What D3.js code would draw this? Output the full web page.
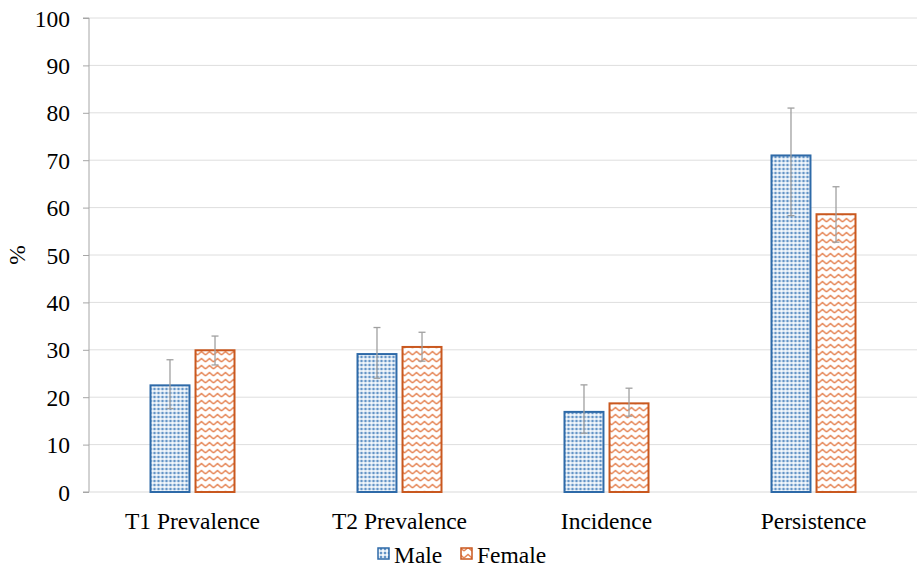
<!DOCTYPE html>
<html><head><meta charset="utf-8">
<script src="https://cdn.jsdelivr.net/npm/d3@7"></script>
<style>body{margin:0;background:#fff}svg{display:block}</style>
</head><body>
<script>
const categories = ["T1 Prevalence", "T2 Prevalence", "Incidence", "Persistence"];
const seriesNames = ["Male", "Female"];
const maleValues = [22.5, 29.1, 16.9, 71.0];
const maleLower = [17.6, 24.0, 12.4, 58.3];
const maleUpper = [27.9, 34.7, 22.6, 81.0];
const femaleValues = [29.9, 30.6, 18.7, 58.6];
const femaleLower = [26.8, 27.6, 16.0, 52.7];
const femaleUpper = [32.9, 33.7, 21.9, 64.4];
const yTicks = [0, 10, 20, 30, 40, 50, 60, 70, 80, 90, 100];

const W = 917, H = 568;
const margin = {left: 89, right: 0, top: 18, bottom: 76};
const svg = d3.select("body").append("svg").attr("width", W).attr("height", H);
const defs = svg.append("defs");
const FONT = "Liberation Serif";
const FS = 23.5;

// Patterns
const pm = defs.append("pattern").attr("id", "pMale").attr("patternUnits", "userSpaceOnUse")
  .attr("width", 4).attr("height", 4);
pm.append("rect").attr("width", 4).attr("height", 4).attr("fill", "#d3e2f0");
pm.append("rect").attr("x", 0).attr("y", 0).attr("width", 2).attr("height", 2).attr("fill", "#6494c6");
pm.append("rect").attr("x", 2).attr("y", 2).attr("width", 2).attr("height", 2).attr("fill", "#f4f8fc");

const pf = defs.append("pattern").attr("id", "pFemale").attr("patternUnits", "userSpaceOnUse")
  .attr("width", 8).attr("height", 7);
pf.append("rect").attr("width", 8).attr("height", 7).attr("fill", "#fff");
pf.append("path").attr("d", "M0,5 L4,1.5 L8,5").attr("fill", "none").attr("stroke", "#e58555").attr("stroke-width", 1.5);

const x0 = d3.scaleBand().domain(categories).range([margin.left, W - margin.right]);
const x1 = d3.scaleBand().domain(seriesNames).range([0, 86]).paddingInner(0.09);
const y = d3.scaleLinear().domain([0, 100]).range([H - margin.bottom, margin.top]);

// gridlines
svg.append("g").selectAll("line").data(yTicks.filter(t => t > 0)).join("line")
  .attr("x1", margin.left).attr("x2", W).attr("y1", d => y(d)).attr("y2", d => y(d))
  .attr("stroke", "#dedede").attr("stroke-width", 1);

// axis
const yAxis = svg.append("g").attr("transform", `translate(${margin.left},0)`)
  .call(d3.axisLeft(y).tickValues(yTicks).tickSize(6).tickPadding(13).tickFormat(d3.format("d")));
yAxis.attr("font-family", null);
yAxis.select(".domain").attr("stroke", "#a6a6a6").attr("d", `M-6,${y(100)}H0V${y(0)}H-6`);
yAxis.selectAll(".tick line").attr("stroke", "#a6a6a6");
yAxis.selectAll(".tick text").attr("font-family", FONT).attr("font-size", FS).attr("fill", "#000").attr("dy", "0.34em");

// x baseline
svg.append("line").attr("x1", margin.left).attr("x2", W).attr("y1", y(0)).attr("y2", y(0))
  .attr("stroke", "#d9d9d9");

const data = categories.map((c, i) => ({
  cat: c,
  bars: [
    {s: "Male", v: maleValues[i], lo: maleLower[i], hi: maleUpper[i]},
    {s: "Female", v: femaleValues[i], lo: femaleLower[i], hi: femaleUpper[i]}
  ]
}));
const fills = {Male: "url(#pMale)", Female: "url(#pFemale)"};
const strokes = {Male: "#2e6aa8", Female: "#c9581f"};

const groups = svg.append("g").selectAll("g").data(data).join("g")
  .attr("transform", d => `translate(${x0(d.cat) + x0.bandwidth() / 2 - 43},0)`);
groups.selectAll("rect").data(d => d.bars).join("rect")
  .attr("x", d => x1(d.s) + 1).attr("width", x1.bandwidth() - 2)
  .attr("y", d => y(d.v)).attr("height", d => y(0) - y(d.v))
  .attr("fill", d => fills[d.s]).attr("stroke", d => strokes[d.s]).attr("stroke-width", 2);

// error bars
const eb = groups.selectAll("g.eb").data(d => d.bars).join("g").attr("class", "eb");
const cx = d => x1(d.s) + x1.bandwidth() / 2;
eb.append("line").attr("x1", cx).attr("x2", cx)
  .attr("y1", d => y(d.lo)).attr("y2", d => y(d.hi)).attr("stroke", "#a0a0a0").attr("stroke-width", 1.3);
eb.append("line").attr("x1", d => cx(d) - 3.5).attr("x2", d => cx(d) + 3.5)
  .attr("y1", d => y(d.hi)).attr("y2", d => y(d.hi)).attr("stroke", "#a0a0a0").attr("stroke-width", 1.3);
eb.append("line").attr("x1", d => cx(d) - 3.5).attr("x2", d => cx(d) + 3.5)
  .attr("y1", d => y(d.lo)).attr("y2", d => y(d.lo)).attr("stroke", "#a0a0a0").attr("stroke-width", 1.3);

// category labels
svg.append("g").selectAll("text").data(categories).join("text")
  .attr("x", d => x0(d) + x0.bandwidth() / 2).attr("y", 529)
  .attr("text-anchor", "middle").attr("font-family", FONT)
  .attr("font-size", FS).attr("fill", "#000").text(d => d);

// y label
svg.append("text").attr("transform", "translate(25,255) rotate(-90)")
  .attr("text-anchor", "middle").attr("font-family", FONT)
  .attr("font-size", FS).attr("fill", "#000").text("%");

// legend
const legX = [378, 461];
seriesNames.forEach((s, i) => {
  svg.append("rect").attr("x", legX[i]).attr("y", 548).attr("width", 11).attr("height", 11)
    .attr("fill", fills[s]).attr("stroke", strokes[s]).attr("stroke-width", 1.5);
  svg.append("text").attr("x", legX[i] + 16).attr("y", 563).attr("font-family", FONT)
    .attr("font-size", FS).attr("fill", "#000").text(s);
});
</script>
</body></html>
